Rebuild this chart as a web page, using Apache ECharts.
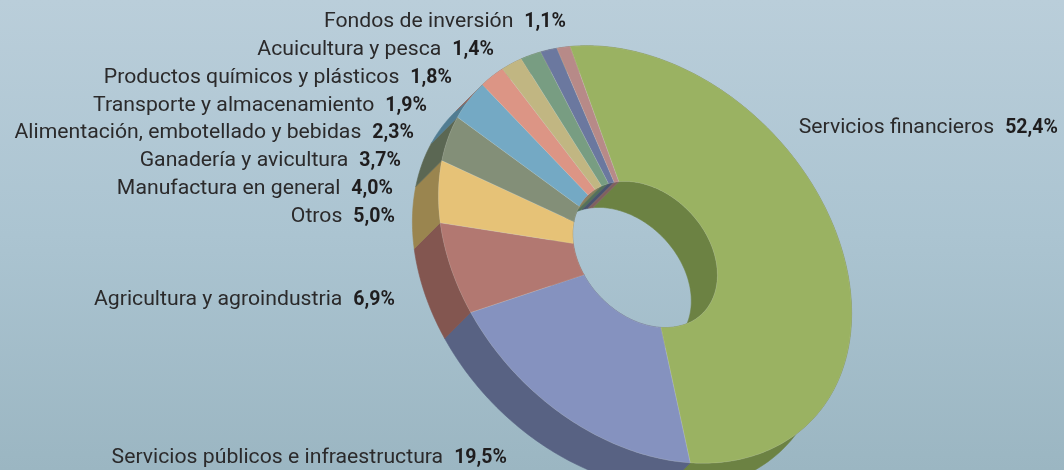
<!DOCTYPE html>
<html><head><meta charset="utf-8">
<style>html,body{margin:0;padding:0;overflow:hidden}#c{width:1064px;height:470px}</style>
<script src="https://cdn.jsdelivr.net/npm/echarts@6/dist/echarts.min.js"></script>
</head><body><div id="c"></div>
<script>
const categories = ['Servicios financieros','Servicios públicos e infraestructura','Agricultura y agroindustria','Otros','Manufactura en general','Ganadería y avicultura','Alimentación, embotellado y bebidas','Transporte y almacenamiento','Productos químicos y plásticos','Acuicultura y pesca','Fondos de inversión'];
const values = [52.4,19.5,6.9,5.0,4.0,3.7,2.3,1.9,1.8,1.4,1.1];
const topColors = ['#9AB262','#8592BF','#B27871','#E6C277','#838F78','#74A9C4','#DC9585','#C1B682','#789D82','#6B789F','#B78A88'];
const wallColors = ['#6C8243','#586283','#835650','#9A854F','#5B6753','#507C92','#99685C','#86805B','#54705B','#4A546F','#80605F'];
const labelRight = [1058,507,395,395,393,401,414,427,452,494,566];
const labelMiddle = [128,458,300,217,189,161,133,106,78,50,22];

// tilted-disc projection (affine view of the unit circle)
const centre = [645,254.5], axisU = [-75,-208], axisV = [192.5,-18], holeRatio = 0.35, depth = [-26,26];
const FONT = 'Roboto', NAME_SIZE = 21, NAME_SCALE = 1.01, VALUE_SIZE = 21, VALUE_SCALE = 0.93, GAP = 11;

const total = values.reduce((a,b)=>a+b,0);
let run = 0;
const seriesData = values.map(v=>{const d=[v,run];run+=v;return d;});
const measure = document.createElement('canvas').getContext('2d');

function pt(pct,r,off){
  const t = pct/total*2*Math.PI, c=Math.cos(t), s=Math.sin(t);
  return [centre[0]+r*(axisU[0]*c+axisV[0]*s)+(off?depth[0]:0), centre[1]+r*(axisU[1]*c+axisV[1]*s)+(off?depth[1]:0)];
}
function arc(a,b,r,off){
  const n=Math.max(2,Math.ceil((b-a)*4)), out=[];
  for(let i=0;i<=n;i++) out.push(pt(a+(b-a)*i/n,r,off));
  return out;
}
function poly(points,fill,stroke,w){
  return {type:'polygon',shape:{points},style:{fill,stroke:stroke||fill,lineWidth:w||0.6},silent:true};
}
const wallSeries = r => ({type:'custom',coordinateSystem:'none',silent:true,animation:false,data:seriesData,
  renderItem(p,api){
    const a=api.value(1),b=a+api.value(0);
    return poly(arc(a,b,r).concat(arc(a,b,r,true).reverse()),wallColors[p.dataIndex]);
  }});
const option = {
  animation:false,
  backgroundColor:new echarts.graphic.LinearGradient(0,0,0,1,[{offset:0,color:'#BACEDA'},{offset:0.5,color:'#ABC4D1'},{offset:1,color:'#9BB6C2'}]),
  series:[
    wallSeries(holeRatio),
    wallSeries(1),
    {type:'custom',coordinateSystem:'none',silent:true,animation:false,data:seriesData,
     renderItem(p,api){
       const a=api.value(1),b=a+api.value(0);
       const pts=arc(a,b,1).concat(arc(a,b,holeRatio).reverse());
       return poly(pts,topColors[p.dataIndex],'rgba(240,235,215,0.3)',0.5);
     }},
    {type:'custom',coordinateSystem:'none',silent:true,animation:false,data:seriesData,
     renderItem(p,api){
       const i=p.dataIndex;
       const txt=api.value(0).toFixed(1).replace('.',',')+'%';
       const boldFont='bold '+VALUE_SIZE+'px '+FONT;
       measure.font=boldFont;
       const vw=measure.measureText(txt).width*VALUE_SCALE;
       return {type:'group',children:[
         {type:'text',silent:true,x:labelRight[i]-vw-GAP,y:labelMiddle[i],scaleX:NAME_SCALE,style:{
           x:0,y:0,align:'right',verticalAlign:'middle',text:categories[i],
           font:NAME_SIZE+'px '+FONT,fill:'#2b2a2b'}},
         {type:'text',silent:true,x:labelRight[i],y:labelMiddle[i],scaleX:VALUE_SCALE,style:{
           x:0,y:0,align:'right',verticalAlign:'middle',text:txt,
           font:boldFont,fill:'#1f1d1e'}}
       ]};
     }}
  ]
};
const chart=echarts.init(document.getElementById('c'),null,{renderer:'canvas',width:1064,height:470});
chart.setOption(option);
</script></body></html>
